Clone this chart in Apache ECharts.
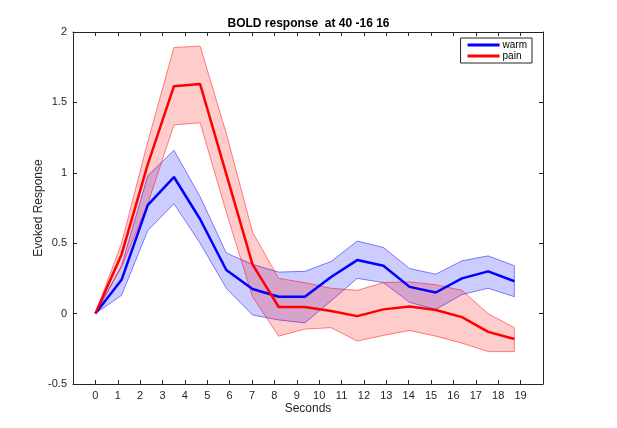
<!DOCTYPE html>
<html>
<head>
<meta charset="utf-8">
<script src="https://cdn.jsdelivr.net/npm/echarts@6/dist/echarts.min.js"></script>
<style>html,body{margin:0;padding:0;background:#fff}#c{width:617px;height:428px}</style>
</head>
<body>
<div id="c"></div>
<script>
const seconds = [0, 1.17, 2.34, 3.51, 4.68, 5.85, 7.02, 8.19, 9.36, 10.53, 11.7, 12.87, 14.04, 15.21, 16.38, 17.55, 18.72];
const xTicks = [0,1,2,3,4,5,6,7,8,9,10,11,12,13,14,15,16,17,18,19];

const warmMean  = [0, 0.24, 0.77, 0.97, 0.67, 0.31, 0.175, 0.12, 0.12, 0.26, 0.38, 0.34, 0.19, 0.15, 0.25, 0.30, 0.23];
const warmUpper = [0, 0.34, 0.98, 1.16, 0.83, 0.43, 0.35, 0.295, 0.30, 0.37, 0.515, 0.47, 0.32, 0.28, 0.375, 0.41, 0.34];
const warmLower = [0, 0.13, 0.59, 0.78, 0.50, 0.18, -0.01, -0.045, -0.066, 0.09, 0.25, 0.22, 0.08, 0.03, 0.135, 0.18, 0.12];

const painMean  = [0, 0.42, 1.06, 1.615, 1.63, 0.99, 0.35, 0.047, 0.047, 0.018, -0.018, 0.03, 0.05, 0.025, -0.025, -0.13, -0.18];
const painUpper = [0, 0.50, 1.22, 1.89, 1.90, 1.28, 0.58, 0.25, 0.22, 0.18, 0.165, 0.22, 0.225, 0.205, 0.165, 0.0, -0.10];
const painLower = [0, 0.33, 0.78, 1.34, 1.355, 0.72, 0.12, -0.16, -0.11, -0.10, -0.195, -0.155, -0.12, -0.16, -0.21, -0.27, -0.27];

function pairs(xs, ys) { return xs.map((x, i) => [x, ys[i]]); }

function bandSeries(name, upper, lower, fill, edge) {
  return {
    name: name,
    type: 'custom',
    xAxisIndex: 0, yAxisIndex: 0,
    clip: true,
    silent: true,
    data: [[0, 0]],
    renderItem: function (params, api) {
      const pts = [];
      for (let i = 0; i < seconds.length; i++) pts.push(api.coord([seconds[i], upper[i]]));
      for (let i = seconds.length - 1; i >= 0; i--) pts.push(api.coord([seconds[i], lower[i]]));
      return {
        type: 'polygon',
        shape: { points: pts },
        style: { fill: fill, stroke: edge, lineWidth: 0.8 }
      };
    }
  };
}

const axisCommon = {
  axisLine: { show: true, onZero: false, lineStyle: { color: '#262626', width: 1 } },
  axisTick: { show: true, inside: true, length: 4, lineStyle: { color: '#262626', width: 1 } },
  splitLine: { show: false }
};
const fontFam = '"Liberation Sans", Arial, Helvetica, sans-serif';

const chart = echarts.init(document.getElementById('c'), null, { renderer: 'canvas' });
chart.setOption({
  backgroundColor: '#ffffff',
  animation: false,
  title: {
    text: 'BOLD response  at 40 -16 16',
    left: 'center', top: 13,
    textStyle: { fontFamily: fontFam, fontSize: 12, fontWeight: 'bold', color: '#000' }
  },
  grid: { left: 73, right: 74, top: 32, bottom: 44, containLabel: false },
  legend: {
    data: ['warm', 'pain'],
    icon: 'rect',
    orient: 'vertical',
    right: 85, top: 38,
    itemWidth: 32, itemHeight: 3, itemGap: 1,
    padding: [2, 5, 2, 7],
    backgroundColor: '#fff',
    borderColor: '#262626', borderWidth: 1, borderRadius: 0,
    textStyle: { fontFamily: fontFam, fontSize: 10, color: '#000', padding: [0, 0, 0, -2] }
  },
  xAxis: [
    Object.assign({
      type: 'value', position: 'bottom', min: -1, max: 20, interval: 1,
      name: 'Seconds', nameLocation: 'middle', nameGap: 19, nameMoveOverlap: false,
      nameTextStyle: { fontFamily: fontFam, fontSize: 12, color: '#262626' },
      axisLabel: {
        fontFamily: fontFam, fontSize: 11, color: '#262626', margin: 6,
        formatter: v => (xTicks.indexOf(v) >= 0 ? String(v) : '')
      }
    }, axisCommon),
    Object.assign({
      type: 'value', position: 'top', min: -1, max: 20, interval: 1,
      axisLabel: { show: false }
    }, axisCommon)
  ],
  yAxis: [
    Object.assign({
      type: 'value', position: 'left', min: -0.5, max: 2, interval: 0.5,
      name: 'Evoked Response', nameLocation: 'middle', nameGap: 28, nameMoveOverlap: false,
      nameTextStyle: { fontFamily: fontFam, fontSize: 12, color: '#262626' },
      axisLabel: { fontFamily: fontFam, fontSize: 11, color: '#262626', margin: 6 }
    }, axisCommon),
    Object.assign({
      type: 'value', position: 'right', min: -0.5, max: 2, interval: 0.5,
      axisLabel: { show: false }
    }, axisCommon)
  ],
  series: [
    bandSeries('warm band', warmUpper, warmLower, 'rgba(0,0,255,0.2)', 'rgba(0,0,255,0.6)'),
    bandSeries('pain band', painUpper, painLower, 'rgba(255,0,0,0.2)', 'rgba(255,0,0,0.6)'),
    {
      name: 'warm', type: 'line', data: pairs(seconds, warmMean),
      symbol: 'none', lineStyle: { color: '#0000ff', width: 2.5 }, itemStyle: { color: '#0000ff' },
      z: 3
    },
    {
      name: 'pain', type: 'line', data: pairs(seconds, painMean),
      symbol: 'none', lineStyle: { color: '#ff0000', width: 2.5 }, itemStyle: { color: '#ff0000' },
      z: 3
    }
  ]
});
</script>
</body>
</html>
